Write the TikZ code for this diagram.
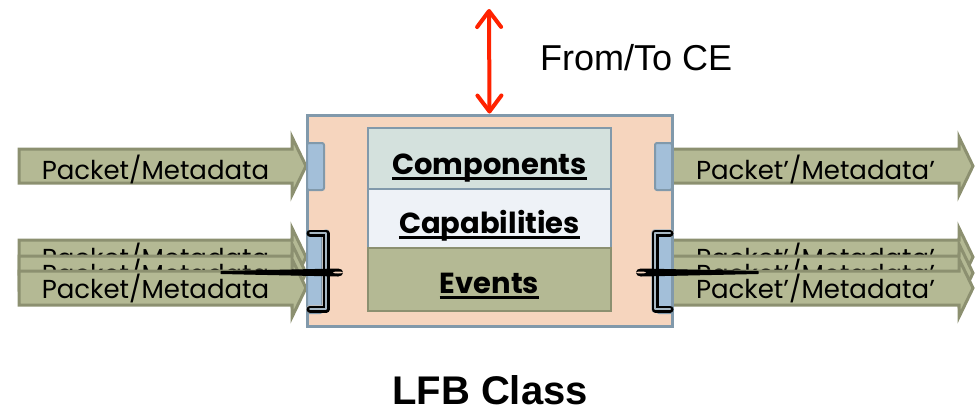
\documentclass[tikz,border=0pt]{standalone}
\usepackage{fontspec}
\setmainfont{Liberation Sans}
\newfontfamily\geofont{Poppins}
\usetikzlibrary{arrows.meta}

\definecolor{boxfill}{HTML}{F6D5BE}
\definecolor{boxline}{HTML}{8199AB}
\definecolor{compfill}{HTML}{D4E1DD}
\definecolor{capfill}{HTML}{EEF2F7}
\definecolor{olivefill}{HTML}{B4B994}
\definecolor{oliveline}{HTML}{8C9070}
\definecolor{portfill}{HTML}{A3BFD9}
\definecolor{ceRed}{HTML}{FF2200}

\tikzset{
  pktbody/.style={fill=olivefill, draw=oliveline, line width=3pt, line join=miter},
  pkttext/.style={font=\geofont\fontsize{26}{30}\selectfont, inner sep=0pt, anchor=base},
  cell/.style={draw=boxline, line width=2.5pt, minimum width=243pt, inner sep=0pt},
  celltext/.style={font=\geofont\bfseries\fontsize{29}{34}\selectfont, inner sep=0pt, anchor=base},
  uline/.style={line width=3pt},
  port/.style={fill=portfill, draw=boxline, line width=2pt, rounded corners=2pt, inner sep=0pt},
  clampshadow/.style={draw=black!25, line width=8pt, line cap=round, line join=round},
  clamp/.style={line width=7pt, line cap=round, line join=round},
  clampcore/.style={draw=boxline!70, line width=2pt, line cap=round, line join=round},
  needle/.style={fill=black, draw=black, line width=1pt, line join=round},
  cearrow/.style={draw=ceRed, line width=4pt, line cap=round,
    {Straight Barb[length=16pt,width=24pt,round]}-{Straight Barb[length=16pt,width=24pt,round]}}
}

% one packet arrow: name, left x, head base x, top y, baseline offset, label
\newcommand{\pktarrow}[6]{%
  \draw[pktbody] (#2,#4) -- (#3,#4) -- (#3,#4-12) -- (#3+14,#4+17)
     -- (#3,#4+46) -- (#3,#4+34) -- (#2,#4+34) -- cycle;
  \node[pkttext] (#1) at ({(#2+#3)/2},#4+#5) {#6};
}

\begin{document}
\begin{tikzpicture}[x=1pt,y=-1pt]
\useasboundingbox (0,0) rectangle (976,408);

% packet streams entering from the left
\pktarrow{inA}{19}{292}{149}{30}{Packet/Metadata}
\pktarrow{inB1}{19}{292}{240}{27}{Packet/Metadata}
\pktarrow{inB2}{19}{292}{256}{27}{Packet/Metadata}
\pktarrow{inB3}{19}{292}{271}{27}{Packet/Metadata}

% packet streams leaving on the right
\pktarrow{outA}{672}{959}{149}{30}{Packet’/Metadata’}
\pktarrow{outB1}{672}{959}{240}{27}{Packet’/Metadata’}
\pktarrow{outB2}{672}{959}{256}{27}{Packet’/Metadata’}
\pktarrow{outB3}{672}{959}{271}{27}{Packet’/Metadata’}

% the LFB block
\node[fill=boxfill, draw=boxline, line width=3pt, minimum width=365pt,
      minimum height=211pt, inner sep=0pt] (lfb) at (489.5,220.5) {};

\node[cell, fill=compfill, minimum height=61pt] (comp) at (489.5,158.5) {};
\node[cell, fill=capfill, minimum height=59pt] (cap) at (489.5,218.5) {};
\node[cell, fill=olivefill, draw=oliveline, minimum height=63pt] (evt) at (489.5,279.5) {};

\node[celltext] (compT) at (489.5,174) {Components};
\node[celltext] (capT) at (489.5,233) {Capabilities};
\node[celltext] (evtT) at (489.5,293) {Events};
\foreach \t in {compT,capT,evtT}
  \draw[uline] ([yshift=-4.5pt]\t.base west) -- ([yshift=-4.5pt]\t.base east);

% input / output ports
\node[port, minimum width=17pt, minimum height=47pt] (pin) at (315.5,166.5) {};
\node[port, minimum width=17pt, minimum height=47pt] (pout) at (663.5,166.5) {};
\node[port, minimum width=15pt, minimum height=81pt] (gin) at (314.5,272.5) {};
\node[port, minimum width=15pt, minimum height=81pt] (gout) at (664.5,272.5) {};

% grouping clamps over the multi-stream ports
\coordinate (cl1) at (310,233);
\coordinate (cl2) at (326,233);
\coordinate (cl3) at (326,309);
\coordinate (cl4) at (310,309);
\draw[clampshadow, shift={(2,3)}] (cl2) -- (cl3) -- (cl4);
\draw[clamp] (cl1) -- (cl2) -- (cl3) -- (cl4);
\draw[clampcore] (cl1) -- (cl2) -- (cl3) -- (cl4);
\coordinate (cr1) at (670,233);
\coordinate (cr2) at (655,233);
\coordinate (cr3) at (655,309);
\coordinate (cr4) at (670,309);
\draw[clampshadow, shift={(-2,3)}] (cr1) -- (cr2) -- (cr3);
\draw[clamp] (cr1) -- (cr2) -- (cr3) -- (cr4);
\draw[clampcore] (cr1) -- (cr2) -- (cr3) -- (cr4);

% needles threading the grouped streams
\draw[needle] (221,271.5) -- (338,269) .. controls (344,269) and (344,276) .. (338,276) -- (221,273.5) -- cycle;
\fill[boxfill] (338,272.5) ellipse [x radius=5pt, y radius=1pt];
\draw[needle] (758,271.5) -- (641,269) .. controls (635,269) and (635,276) .. (641,276) -- (758,273.5) -- cycle;
\fill[boxfill] (641,272.5) ellipse [x radius=5pt, y radius=1pt];

% control element link
\coordinate (ce) at (489,9);
\draw[cearrow] (lfb.north) -- (ce);
\node[font=\fontsize{36}{40}\selectfont, inner sep=0pt, anchor=base west] (ceT) at (540,70) {From/To CE};

\node[font=\bfseries\fontsize{40}{44}\selectfont, inner sep=0pt, anchor=base] (title) at (490,404) {LFB Class};
\end{tikzpicture}
\end{document}
